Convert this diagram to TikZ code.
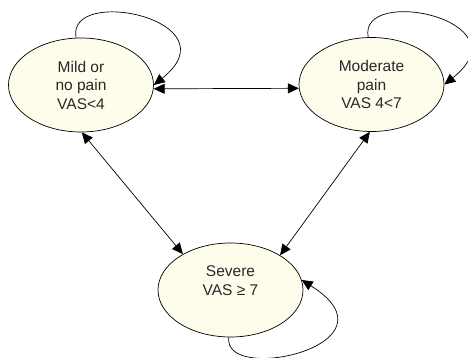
\documentclass[tikz,border=0pt]{standalone}
\usepackage{fontspec}
\setmainfont{Liberation Sans}
\usetikzlibrary{shapes.geometric,arrows.meta}
\definecolor{statefill}{RGB}{254,253,236}
\definecolor{txt}{RGB}{40,40,40}
\begin{document}
\begin{tikzpicture}[x=1pt,y=-1pt,
  state/.style={ellipse,draw=black,line width=0.7pt,fill=statefill,
    minimum width=145pt,minimum height=94pt,inner sep=0pt,align=center,
    text=txt,font=\fontsize{15.5}{18.5}\selectfont},
  conn/.style={line width=0.7pt,black},
  tip/.style={-{Triangle[length=11pt,width=10pt]}},
  both/.style={{Triangle[length=11pt,width=10pt]}-{Triangle[length=11pt,width=10pt]}}]
\useasboundingbox (0,0) rectangle (468,358);
\node[state] (mild) at (81,85) {Mild or\\no pain\\VAS<4};
\node[state] (mod) at (371.5,84.5) {Moderate\\pain\\VAS 4<7};
\node[state] (sev) at (230.5,290) {Severe\\VAS ≥ 7\\\mbox{}};
% self loops
\draw[conn,tip] (mild.96) .. controls (66,-15) and (235,20) .. (mild.east);
\draw[conn,tip] (mod.94) .. controls (358,-15) and (526,20) .. (mod.east);
\draw[conn,tip] (sev.-92) .. controls (222,385) and (405,345) .. (sev.8);
% transitions
\draw[conn,both] (mild.-3) -- (mod.183.5);
\draw[conn,both] (mild.-89) -- (sev.143);
\draw[conn,both] (mod.-92) -- (sev.35);
\end{tikzpicture}
\end{document}
